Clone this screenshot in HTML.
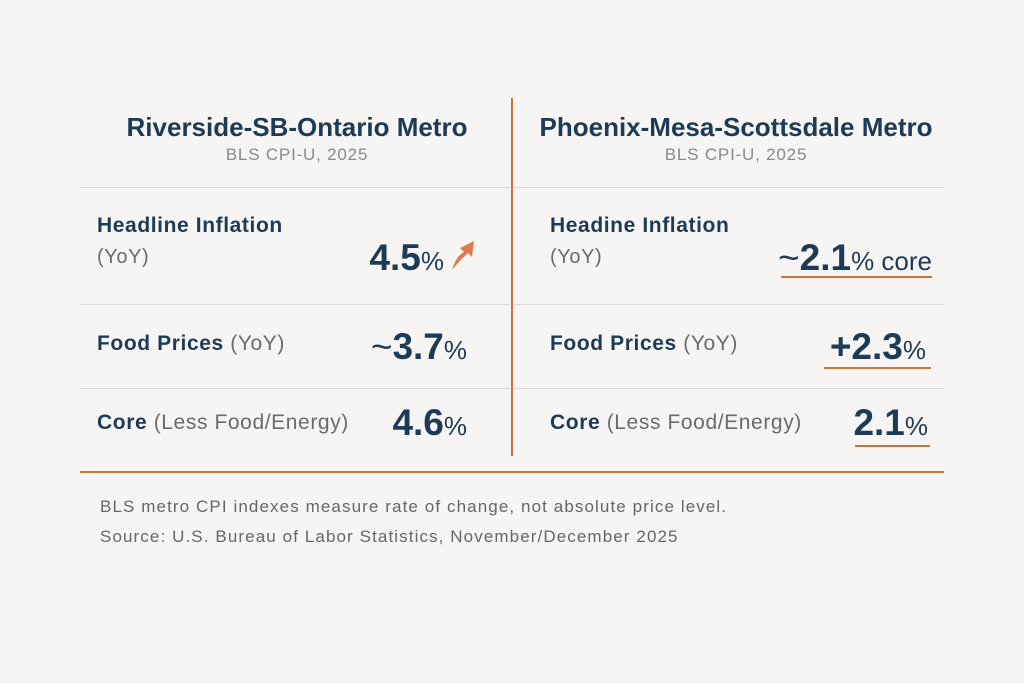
<!DOCTYPE html><html><head><style>
body{margin:0;width:1024px;height:683px;background:#f7f5f3;font-family:"Liberation Sans",sans-serif;position:relative;overflow:hidden;color:#1d3a56}
.a{position:absolute;white-space:nowrap}
.t{font-size:26px;font-weight:bold;transform:translateX(-50%)}
.s{font-size:17px;letter-spacing:0.8px;color:#8a8a8a;transform:translateX(-50%)}
.l{font-size:21px;font-weight:bold;letter-spacing:0.6px}
.l span,.g{font-weight:normal;color:#6b6b6b}
.v{font-size:37px;font-weight:bold;text-align:right}
.v small{font-size:26px;font-weight:normal}
.h{position:absolute;height:1px;background:#dcdad7}
.u{position:absolute;height:2px;background:#c8743d}
.f{font-size:17px;letter-spacing:1.1px;color:#666}
</style></head><body>
<div class="a t" style="left:297px;top:112px">Riverside-SB-Ontario Metro</div>
<div class="a s" style="left:297px;top:145px">BLS CPI-U, 2025</div>
<div class="a t" style="left:736px;top:112px">Phoenix-Mesa-Scottsdale Metro</div>
<div class="a s" style="left:736px;top:145px">BLS CPI-U, 2025</div>
<div style="position:absolute;left:511px;top:98px;width:2px;height:358px;background:#c8743d"></div>
<div class="h" style="left:80px;top:187px;width:430px"></div><div class="h" style="left:514px;top:187px;width:430px"></div>
<div class="h" style="left:80px;top:304px;width:430px"></div><div class="h" style="left:514px;top:304px;width:430px"></div>
<div class="h" style="left:80px;top:388px;width:430px"></div><div class="h" style="left:514px;top:388px;width:430px"></div>
<div style="position:absolute;left:80px;top:471px;width:864px;height:2px;background:#c8743d"></div>

<div class="a l" style="left:97px;top:214px">Headline Inflation</div>
<div class="a l g" style="left:97px;top:246px;font-size:20px">(YoY)</div>
<div class="a v" style="right:580px;top:237px">4.5<small>%</small></div>
<svg class="a" style="left:448px;top:238px" width="28" height="34"><path d="M4 32 Q8 18 16 14 L12 10 L26 3 L24 19 L20 15 Q14 20 4 32Z" fill="#e07a4f"/></svg>
<div class="a l" style="left:97px;top:332px">Food Prices <span>(YoY)</span></div>
<div class="a v" style="right:557px;top:326px"><span style="font-weight:normal">~</span>3.7<small>%</small></div>
<div class="a l" style="left:97px;top:411px">Core <span>(Less Food/Energy)</span></div>
<div class="a v" style="right:557px;top:402px">4.6<small>%</small></div>

<div class="a l" style="left:550px;top:214px">Headine Inflation</div>
<div class="a l g" style="left:550px;top:246px;font-size:20px">(YoY)</div>
<div class="a v" style="right:92px;top:237px"><span style="font-weight:normal">~</span>2.1<small>% core</small></div>
<div class="u" style="left:781px;top:276px;width:151px"></div>
<div class="a l" style="left:550px;top:332px">Food Prices <span>(YoY)</span></div>
<div class="a v" style="right:98px;top:326px">+2.3<small>%</small></div>
<div class="u" style="left:824px;top:367px;width:107px"></div>
<div class="a l" style="left:550px;top:411px">Core <span>(Less Food/Energy)</span></div>
<div class="a v" style="right:96px;top:402px">2.1<small>%</small></div>
<div class="u" style="left:855px;top:445px;width:75px"></div>

<div class="a f" style="left:100px;top:497px">BLS metro CPI indexes measure rate of change, not absolute price level.</div>
<div class="a f" style="left:100px;top:527px">Source: U.S. Bureau of Labor Statistics, November/December 2025</div>
</body></html>
